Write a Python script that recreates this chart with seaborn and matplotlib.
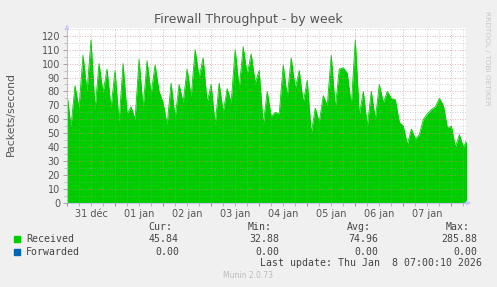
import matplotlib
matplotlib.use("Agg")
import matplotlib.pyplot as plt
import seaborn as sns
import pandas as pd

# ---- data (hours since 31 Dec 00:00, 2-hour steps) ----
hours = list(range(0, 201, 2))
received = [78, 55, 84, 68, 106, 80, 117, 67, 100, 79, 96, 68, 95, 58, 100, 64, 69, 60,
            103, 68, 102, 78, 99, 80, 72, 56, 86, 61, 85, 72, 96, 76, 110, 90,
            104, 72, 85, 56, 86, 65, 82, 72, 110, 82, 112, 92, 107, 86, 95, 56, 80, 62,
            65, 64, 99, 76, 104, 82, 95, 72, 88, 50, 68, 58, 77, 70, 106,
            68, 96, 97, 93, 70, 117, 63, 80, 55, 80, 60, 85, 72, 80, 75, 74, 58, 55,
            42, 53, 46, 49, 60, 64, 67, 69, 75, 70, 54, 55, 40, 49, 40, 46]
day_labels = ["31 déc", "01 jan", "02 jan", "03 jan", "04 jan", "05 jan", "06 jan", "07 jan"]
y_ticks = list(range(0, 121, 10))
title = "Firewall Throughput - by week"
y_label = "Packets/second"
series_names = ["Received", "Forwarded"]
series_colors = ["#00CC00", "#0066B3"]
stat_headers = ["Cur:", "Min:", "Avg:", "Max:"]
stat_cur = ["45.84", "0.00"]
stat_min = ["32.88", "0.00"]
stat_avg = ["74.96", "0.00"]
stat_max = ["285.88", "0.00"]
last_update = "Last update: Thu Jan  8 07:00:10 2026"
footer = "Munin 2.0.73"
side_text = "RRDTOOL / TOBI OETIKER"

sns.set_theme(style="white")
plt.rcParams['font.family'] = ['DejaVu Sans']

W, H = 497, 287
fig = plt.figure(figsize=(W / 100, H / 100), dpi=100, facecolor="#F0F0F0")
ax = fig.add_axes([67 / W, 1 - 203 / H, 399 / W, 175 / H])
ax.set_facecolor("white")

df = pd.DataFrame({"h": hours, "v": received})
ax.fill_between(df["h"], df["v"], color=series_colors[0], lw=0, zorder=1)
sns.lineplot(data=df, x="h", y="v", color=series_colors[0], lw=0.6, ax=ax, zorder=2)

ax.set_xlim(0, 199.3)
ax.set_ylim(0, 125.5)
ax.set_xlabel("")
ax.set_ylabel("")

# ticks / grid
day_bounds = [24 * i for i in range(9)]
ax.set_xticks(day_bounds)
ax.set_xticks([6 * i for i in range(34)], minor=True)
ax.set_xticklabels([])
ax.set_yticks(y_ticks)
ax.set_yticks(list(range(5, 126, 10)), minor=True)
ax.set_yticklabels([str(t) for t in y_ticks], fontsize=7, color="#555555")

ax.grid(which="major", color="#D08080", linestyle=(0, (1, 2)), lw=0.6, alpha=0.8)
ax.grid(which="minor", color="#A0A0A0", linestyle=(0, (1, 2)), lw=0.6, alpha=0.6)
ax.set_axisbelow(False)

ax.tick_params(axis="x", which="major", direction="out", length=2.5, width=0.6,
               color="#D06060", bottom=True)
ax.tick_params(axis="x", which="minor", direction="out", length=2, width=0.6,
               color="#AAAAAA", bottom=True)
ax.tick_params(axis="y", which="major", direction="out", length=3, width=0.6,
               color="#999999", left=True, pad=2)
ax.tick_params(axis="y", which="minor", direction="out", length=2, width=0.6,
               color="#BBBBBB", left=True)

for s in ["top", "right"]:
    ax.spines[s].set_visible(False)
for s in ["left", "bottom"]:
    ax.spines[s].set_color("#C8C8F0")
    ax.spines[s].set_linewidth(0.8)

# day labels at noon
for i, lab in enumerate(day_labels):
    ax.text(12 + 24 * i, -0.035, lab, transform=ax.get_xaxis_transform(),
            ha="center", va="top", fontsize=7, color="#555555")

# axis arrows
ax.annotate("", xy=(0, 1.035), xytext=(0, 0.99), xycoords="axes fraction",
            arrowprops=dict(arrowstyle="-|>", color="#C8C8FF", lw=0.8, mutation_scale=6),
            annotation_clip=False)
ax.annotate("", xy=(1.02, 0), xytext=(0.99, 0), xycoords="axes fraction",
            arrowprops=dict(arrowstyle="-|>", color="#C8C8FF", lw=0.8, mutation_scale=6),
            annotation_clip=False)

def fx(x):
    return x / W

def fy(y):
    return 1 - y / H

fig.text(fx(248.5), fy(19.5), title, ha="center", va="center", fontsize=9, color="#555555")
fig.text(fx(10.5), fy(114.5), y_label, ha="center", va="center", rotation=90,
         fontsize=7.8, color="#555555")
fig.text(fx(487), fy(58), side_text, ha="center", va="center", rotation=270,
         fontsize=5.3, color="#C8C8C8")

mono = dict(family="DejaVu Sans Mono", fontsize=7.1, color="#444444", va="center")
header_right = [172, 272, 371, 470]
value_right = [179, 279, 378, 477]
for hx, hd in zip(header_right, stat_headers):
    fig.text(fx(hx), fy(227), hd, ha="right", **mono)

rows_y = [239, 252]
stats = [stat_cur, stat_min, stat_avg, stat_max]
for r, (name, col) in enumerate(zip(series_names, series_colors)):
    yy = rows_y[r]
    fig.patches.append(plt.Rectangle((fx(14), fy(yy + 3)), 6 / W, 6 / H,
                                     transform=fig.transFigure, color=col, figure=fig))
    fig.text(fx(26), fy(yy), name, ha="left", **mono)
    for vx, st in zip(value_right, stats):
        fig.text(fx(vx), fy(yy), st[r], ha="right", **mono)

fig.text(fx(482), fy(263.5), last_update, ha="right", **mono)
fig.text(fx(248), fy(276), footer, ha="center", va="center", fontsize=5.5, color="#BBBBBB")

fig.savefig("out.png", dpi=100, facecolor=fig.get_facecolor())
